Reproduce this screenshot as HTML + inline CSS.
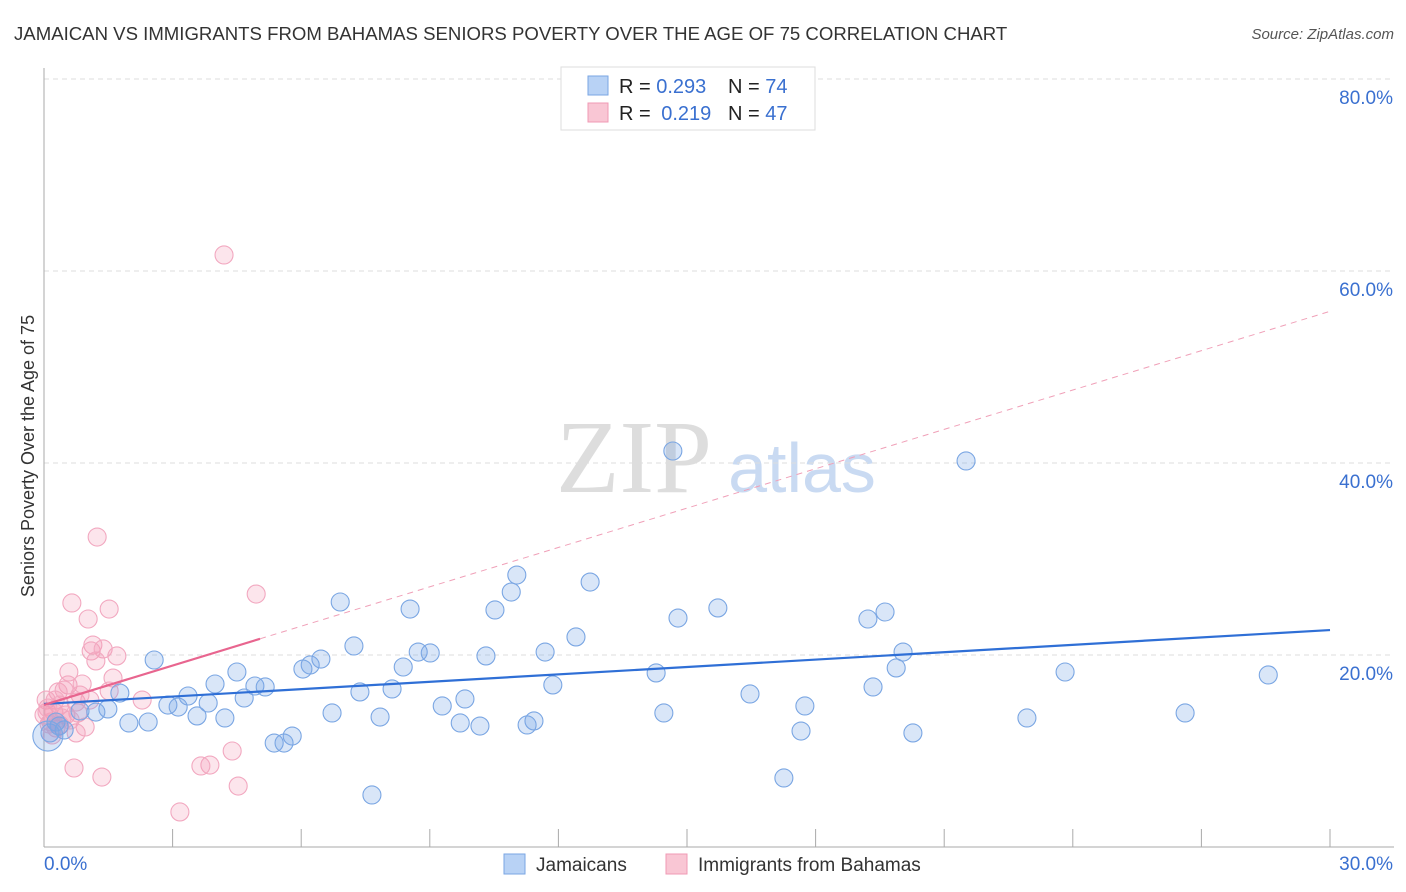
<!DOCTYPE html>
<html><head><meta charset="utf-8"><style>
body{margin:0;background:#fff;font-family:"Liberation Sans",sans-serif;}
svg{display:block}
</style></head><body>
<svg id="chart" width="1406" height="892">
<text x="14" y="40" font-size="18.6" fill="#333">JAMAICAN VS IMMIGRANTS FROM BAHAMAS SENIORS POVERTY OVER THE AGE OF 75 CORRELATION CHART</text>
<text x="1394" y="39" font-size="15" fill="#555" font-style="italic" text-anchor="end">Source: ZipAtlas.com</text>
<text x="634" y="492" font-size="104" fill="#ddd" font-family="Liberation Serif,serif" text-anchor="middle">ZIP</text>
<text x="802" y="492" font-size="70" fill="#c9daf2" text-anchor="middle">atlas</text>
<text transform="translate(34,456) rotate(-90)" font-size="18" fill="#333" text-anchor="middle">Seniors Poverty Over the Age of 75</text>
<g id="grid"></g><g id="pts"></g><g id="lines"></g>
<g>
<rect x="561" y="67" width="254" height="63" fill="#fff" stroke="#ddd"/>
<rect x="588" y="76" width="20" height="19" fill="#b8d2f5" stroke="#7aa6e3"/>
<text x="619" y="93" font-size="20" fill="#222">R = <tspan fill="#3a70d0">0.293</tspan></text>
<text x="728" y="93" font-size="20" fill="#222">N = <tspan fill="#3a70d0">74</tspan></text>
<rect x="588" y="103" width="20" height="19" fill="#f9c6d4" stroke="#f09ab4"/>
<text x="619" y="120" font-size="20" fill="#222">R = <tspan fill="#3a70d0" dx="5">0.219</tspan></text>
<text x="728" y="120" font-size="20" fill="#222">N = <tspan fill="#3a70d0">47</tspan></text>
</g>
<g>
<rect x="504" y="854" width="21" height="20" fill="#b8d2f5" stroke="#7aa6e3"/>
<text x="536" y="871" font-size="19" fill="#333">Jamaicans</text>
<rect x="666" y="854" width="21" height="20" fill="#f9c6d4" stroke="#f09ab4"/>
<text x="698" y="871" font-size="19" fill="#333">Immigrants from Bahamas</text>
</g>
</svg>
<script>
const xTicks=[0,3,6,9,12,15,18,21,24,27,30];
const yTicks=[20,40,60,80];
const yTickLabels=["20.0%","40.0%","60.0%","80.0%"];
const blueX=[14.67,21.51,11.03,12.74,10.9,6.91,10.52,8.54,15.72,19.62,19.22,14.79,12.41,7.23,8.73,9.01,11.69,20.04,2.57,6.46,10.31,6.21,6.04,8.38,4.5,14.28,23.82,28.56,19.88,11.87,3.99,4.92,5.16,19.34,8.12,7.37,3.36,4.67,16.47,9.82,1.77,2.89,3.13,3.83,9.29,17.75,1.49,1.21,0.84,6.72,14.46,26.62,3.57,4.22,7.84,22.93,1.98,2.43,9.71,10.17,11.43,11.27,17.66,20.27,5.79,5.37,5.6,0.35,0.47,0.14,0.28,17.26,7.65,0.09];
const blueY=[41.25,40.21,28.33,27.6,26.56,25.52,24.69,24.79,24.9,24.48,23.75,23.85,21.88,20.94,20.31,20.21,20.31,20.31,19.48,19.58,19.9,18.96,18.54,18.75,18.23,18.13,18.23,17.92,18.65,16.88,16.98,16.77,16.67,16.67,16.46,16.15,15.73,15.52,15.94,15.42,16.04,14.79,14.58,15.0,14.69,14.69,14.38,14.06,14.17,13.96,13.96,13.96,13.65,13.44,13.54,13.44,12.92,13.02,12.92,12.6,13.13,12.71,12.08,11.88,11.56,10.83,10.83,12.6,12.19,11.88,13.02,7.19,5.42,11.56];
const pinkX=[4.2,1.24,4.95,0.65,1.52,1.03,1.14,1.1,1.38,1.21,1.7,0.58,0.56,1.61,0.89,0.33,0.47,1.52,2.29,0.05,0.26,0.75,0,0.23,0.51,0.79,0.16,0.37,0.96,0.75,0.12,0.28,0.7,1.35,4.39,3.87,3.66,4.53,3.17,0.07,0.37,0.19,0.61,0.42,0.09,1.07,0.84];
const pinkY=[61.67,32.29,26.35,25.42,24.79,23.75,21.04,20.42,20.63,19.38,19.9,18.23,16.88,17.6,16.98,16.15,16.35,16.25,15.31,15.31,15.31,15.1,13.75,14.06,13.75,13.96,13.02,12.71,12.5,11.88,12.81,12.4,8.23,7.29,10.0,8.54,8.44,6.35,3.65,14.06,14.79,11.67,13.23,13.44,14.48,15.31,15.83];
const blueTrend=[14.9,22.6];
const pinkTrend=[14.8,55.8];
const pinkSolidEnd=5.04;
const X0=44,X1=1330,Y0=847;
const sx=v=>X0+(v/30)*(X1-X0);
const sy=v=>Y0-v*9.6;
const NS="http://www.w3.org/2000/svg";
function mk(tag,attrs,parent){const e=document.createElementNS(NS,tag);for(const k in attrs)e.setAttribute(k,attrs[k]);parent.appendChild(e);return e;}
const grid=document.getElementById('grid');
yTicks.forEach((t,i)=>{
 const l=mk('line',{x1:X0,x2:1394,y1:sy(t),y2:sy(t),stroke:'#ddd','stroke-dasharray':'5,4'},grid);
 
 
 const tx=mk('text',{x:1393,y:sy(t)+25,'font-size':19,fill:'#3a70d0','text-anchor':'end'},grid);
 tx.textContent=yTickLabels[i];
 
 
});
const ax=mk('line',{x1:X0,x2:X0,y1:68,y2:Y0,stroke:'#aaa'},grid);


const bx=mk('line',{x1:X0,x2:1394,y1:Y0,y2:Y0,stroke:'#aaa'},grid);


xTicks.forEach(t=>{
 const l=mk('line',{x1:sx(t),x2:sx(t),y1:829,y2:Y0,stroke:'#aaa'},grid);
 
 
});
const xl0=mk('text',{x:44,y:870,'font-size':19,fill:'#3a70d0'},grid);xl0.textContent='0.0%';


const xl1=mk('text',{x:1393,y:870,'font-size':19,fill:'#3a70d0','text-anchor':'end'},grid);xl1.textContent='30.0%';


const pts=document.getElementById('pts');
pinkX.forEach((x,i)=>{
 const c=mk('circle',{cx:sx(x),cy:sy(pinkY[i]),r:9,fill:'rgba(244,150,178,0.25)',stroke:'#f2a8c0','stroke-width':1.1},pts);
 
 
});
blueX.forEach((x,i)=>{
 const big=i===blueX.length-1;
 const c=mk('circle',{cx:sx(x),cy:sy(blueY[i]),r:big?15:9,fill:'rgba(120,165,230,0.28)',stroke:'#7aa6e3','stroke-width':1.1},pts);
 
 
});
const lines=document.getElementById('lines');
const bl=mk('line',{x1:sx(0),y1:sy(blueTrend[0]),x2:sx(30),y2:sy(blueTrend[1]),stroke:'#2f6fd6','stroke-width':2.2},lines);


const pv=x=>pinkTrend[0]+(pinkTrend[1]-pinkTrend[0])*x/30;
const ps=mk('line',{x1:sx(0),y1:sy(pv(0)),x2:sx(pinkSolidEnd),y2:sy(pv(pinkSolidEnd)),stroke:'#e8658f','stroke-width':2.2},lines);


const pd=mk('line',{x1:sx(pinkSolidEnd),y1:sy(pv(pinkSolidEnd)),x2:sx(30),y2:sy(pv(30)),stroke:'#f0a0b8','stroke-width':1,'stroke-dasharray':'6,5'},lines);


</script>
</body></html>
